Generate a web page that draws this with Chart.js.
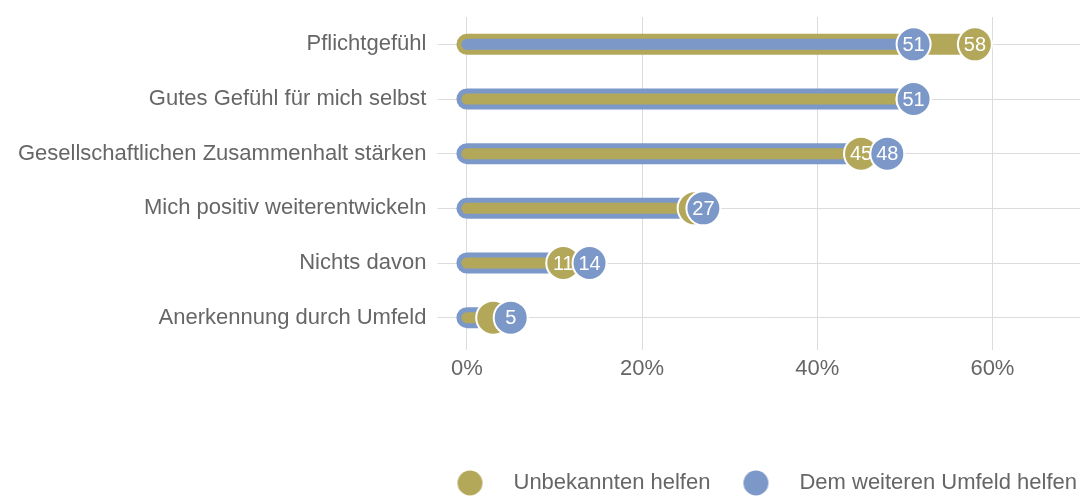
<!DOCTYPE html>
<html>
<head>
<meta charset="utf-8">
<script src="https://cdn.jsdelivr.net/npm/chart.js@4/dist/chart.umd.min.js"></script>
<style>
  html, body { margin: 0; padding: 0; background: #fff; }
  #wrap { width: 1081px; height: 498px; }
</style>
</head>
<body>
<div id="wrap"><canvas id="chart"></canvas></div>
<script>
// data
var categories = [
  "Pflichtgefühl",
  "Gutes Gefühl für mich selbst",
  "Gesellschaftlichen Zusammenhalt stärken",
  "Mich positiv weiterentwickeln",
  "Nichts davon",
  "Anerkennung durch Umfeld"
];
var unbekannten = [58, 51, 45, 26, 11, 3];
var umfeld = [51, 51, 48, 27, 14, 5];
var series_names = ["Unbekannten helfen", "Dem weiteren Umfeld helfen"];
var x_ticks = [0, 20, 40, 60];

var gold = "#b3a85a";
var blue = "#7b98c9";
var text_color = "#666";
var grid_color = "#dcdcdc";
var font_family = "'Liberation Sans', Arial, Helvetica, sans-serif";

// legend dot: circle drawn inside a wider canvas so the gap to the text matches
function legend_dot(color) {
  var c = document.createElement("canvas");
  c.width = 75;
  c.height = 26;
  var g = c.getContext("2d");
  g.fillStyle = color;
  g.beginPath();
  g.arc(42.5, 13, 12.5, 0, Math.PI * 2);
  g.fill();
  return c;
}

// the thick rounded bars from 0 to the value, longer one behind
var lollipop_bars = {
  id: "lollipop_bars",
  beforeDatasetsDraw: function (chart) {
    var ctx = chart.ctx;
    var xs = chart.scales.x;
    var ys = chart.scales.y;
    var x0 = xs.getPixelForValue(0);
    ctx.save();
    ctx.lineCap = "round";
    for (var i = 0; i < categories.length; i++) {
      var y = ys.getPixelForValue(i);
      var outer, inner, outer_col, inner_col;
      if (unbekannten[i] > umfeld[i]) {
        outer = unbekannten[i]; outer_col = gold;
        inner = umfeld[i]; inner_col = blue;
      } else {
        outer = umfeld[i]; outer_col = blue;
        inner = unbekannten[i]; inner_col = gold;
      }
      ctx.strokeStyle = outer_col;
      ctx.lineWidth = 21;
      ctx.beginPath();
      ctx.moveTo(x0, y);
      ctx.lineTo(xs.getPixelForValue(outer), y);
      ctx.stroke();
      ctx.strokeStyle = inner_col;
      ctx.lineWidth = 11;
      ctx.beginPath();
      ctx.moveTo(x0, y);
      ctx.lineTo(xs.getPixelForValue(inner), y);
      ctx.stroke();
    }
    ctx.restore();
  },
  // value labels inside the circles, drawn right after each circle set
  afterDatasetDraw: function (chart, args) {
    var ctx = chart.ctx;
    var ds = chart.data.datasets[args.index];
    ctx.save();
    ctx.fillStyle = "#fff";
    ctx.font = "20px " + font_family;
    ctx.textAlign = "center";
    ctx.textBaseline = "middle";
    args.meta.data.forEach(function (pt, i) {
      var v = ds.data[i];
      if (args.index == 0 && umfeld[i] >= v && umfeld[i] - v < 3) return; // hidden under the blue dot
      ctx.fillText(v, pt.x, pt.y + 1);
    });
    ctx.restore();
  }
};

var ctx = document.getElementById("chart").getContext("2d");

var chart = new Chart(ctx, {
  type: "line",
  data: {
    labels: categories,
    datasets: [{
      label: series_names[0],
      data: unbekannten,
      showLine: false,
      order: 1,
      backgroundColor: gold,
      pointBackgroundColor: gold,
      pointBorderColor: "#fff",
      pointBorderWidth: 2,
      pointRadius: 17
    }, {
      label: series_names[1],
      data: umfeld,
      showLine: false,
      order: 0,
      backgroundColor: blue,
      pointBackgroundColor: blue,
      pointBorderColor: "#fff",
      pointBorderWidth: 2,
      pointRadius: 17
    }]
  },
  options: {
    indexAxis: "y",
    responsive: true,
    maintainAspectRatio: false,
    animation: false,
    clip: false,
    layout: {
      autoPadding: false,
      padding: { top: 17, left: 7, right: 1, bottom: -6 }
    },
    scales: {
      x: {
        type: "linear",
        min: -2,
        max: 70,
        border: { display: false },
        grid: { color: grid_color, tickLength: 5 },
        afterBuildTicks: function (axis) {
          axis.ticks = x_ticks.map(function (v) { return { value: v }; });
        },
        afterFit: function (axis) {
          axis.height = 124;
          axis.paddingLeft = 0;
          axis.paddingRight = 0;
        },
        ticks: {
          color: text_color,
          padding: 6,
          font: { size: 22, family: font_family },
          callback: function (v) { return v + "%"; }
        }
      },
      y: {
        type: "category",
        offset: true,
        border: { display: false },
        grid: { color: grid_color, offset: false, tickLength: 12 },
        afterFit: function (axis) {
          axis.paddingTop = 0;
          axis.paddingBottom = 0;
        },
        ticks: {
          color: text_color,
          padding: 11,
          font: { size: 22, family: font_family }
        }
      }
    },
    plugins: {
      tooltip: { enabled: false },
      legend: {
        position: "bottom",
        align: "end",
        labels: {
          usePointStyle: true,
          pointStyleWidth: 75,
          padding: 3,
          color: text_color,
          font: { size: 22, family: font_family },
          sort: function (a, b) { return a.datasetIndex - b.datasetIndex; },
          generateLabels: function (chart) {
            var items = Chart.defaults.plugins.legend.labels.generateLabels(chart);
            items.forEach(function (it) {
              it.pointStyle = legend_dot(it.datasetIndex == 0 ? gold : blue);
            });
            return items;
          }
        }
      }
    }
  },
  plugins: [lollipop_bars]
});
</script>
</body>
</html>
